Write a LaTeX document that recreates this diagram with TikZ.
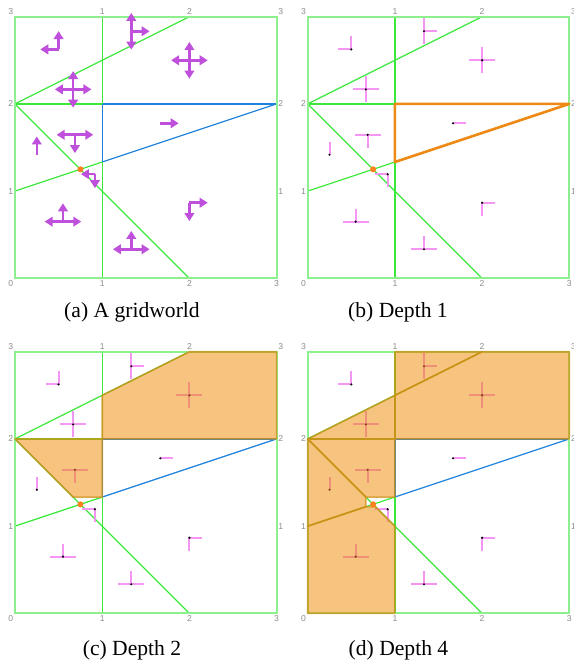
\documentclass[tikz,border=0pt]{standalone}
\usepackage{fontspec}
\setmainfont{Liberation Serif}
\newfontfamily\tickfont{Liberation Sans}
\usetikzlibrary{arrows.meta}

\definecolor{gridgreen}{RGB}{60,232,60}
\definecolor{boxgreen}{RGB}{140,240,140}
\definecolor{cutblue}{RGB}{30,130,220}
\definecolor{actviolet}{RGB}{190,80,220}
\definecolor{armpink}{RGB}{245,150,245}
\definecolor{hitorange}{RGB}{255,128,30}
\definecolor{pickorange}{RGB}{238,138,20}
\definecolor{absfill}{RGB}{237,137,0}
\definecolor{absedge}{RGB}{205,145,25}

\tikzset{
  frame/.style   = {draw=boxgreen, line width=1bp},
  cut/.style     = {draw=gridgreen, line width=0.6bp},
  cutb/.style    = {draw=cutblue, line width=0.6bp},
  tick/.style    = {font=\tickfont\fontsize{4.3bp}{5bp}\selectfont, text=black!45,
                    inner sep=0.7bp},
  act/.style     = {draw=actviolet, line width=1.3bp,
                    -{Triangle[length=4bp,width=4.8bp]}},
  arm/.style     = {draw=armpink, line width=1bp},
  picked/.style  = {draw=pickorange, line width=1.3bp, line join=round},
  absreg/.style  = {fill=absfill, fill opacity=0.5, draw=absedge, draw opacity=0.75,
                    line width=0.8bp, line join=round},
  capt/.style    = {font=\fontsize{10.8bp}{13bp}\selectfont, anchor=base, inner sep=0pt},
  panel/.style   = {x=43.6bp, y=43.6bp},
}

% region centres: x / y / arrow length / actions (angles)
\newcommand{\regionlist}{0.5/2.625/0.21/{180,90}, 1.3333/2.8333/0.21/{90,270,0},
  2/2.5/0.21/{0,90,180,270}, 0.6667/2.1667/0.21/{0,90,180,270},
  1.6667/1.7778/0.21/{0}, 0.6875/1.6458/0.21/{180,0,270}, 0.25/1.4167/0.21/{90},
  0.9167/1.1944/0.16/{180,270}, 2/0.8667/0.21/{0,270}, 0.55/0.65/0.21/{180,0,90},
  1.3333/0.3333/0.21/{180,0,90}}

% the cuts of the gridworld and the numbers round it
\newcommand{\gridpanel}[1]{
  \draw[cut] (0,2) -- (2,3);
  \draw[cut] (0,2) -- (2,0);
  \draw[cut] (0,1) -- (1,1.3333);
  \draw[cutb] (1,1.3333) -- (3,2);
  \draw[cut] (0,2) -- (1,2);
  \draw[cutb] (1,2) -- (3,2);
  \draw[cut] (1,0) -- (1,1.3333);
  \draw[cutb] (1,1.3333) -- (1,2);
  \draw[cut] (1,2) -- (1,3);
  \draw[frame] (0,0) rectangle (3,3);
  \node[tick, anchor=south east] (#1-tl) at (0,3) {3};
  \node[tick, anchor=south] (#1-t1) at (1,3) {1};
  \node[tick, anchor=south] (#1-t2) at (2,3) {2};
  \node[tick, anchor=south west] (#1-tr) at (3,3) {3};
  \node[tick, anchor=east] (#1-l2) at (0,2) {2};
  \node[tick, anchor=east] (#1-l1) at (0,1) {1};
  \node[tick, anchor=west] (#1-r2) at (3,2) {2};
  \node[tick, anchor=west] (#1-r1) at (3,1) {1};
  \node[tick, anchor=north east] (#1-b0) at (0,0) {0};
  \node[tick, anchor=north] (#1-b1) at (1,0) {1};
  \node[tick, anchor=north] (#1-b2) at (2,0) {2};
  \node[tick, anchor=north] (#1-b3) at (3,0) {3};
}

% small crosses of the abstract states
\newcommand{\statecrosses}{
  \foreach \x/\y/\l/\dirs in \regionlist {
    \foreach \a in \dirs
      \draw[arm] (\x,\y) -- ++(\a:0.15);
    \fill (\x,\y) circle[radius=0.6bp];
  }
}

\newcommand{\hitdot}{\fill[hitorange] (0.75,1.25) circle[radius=1.5bp];}

\begin{document}
\begin{tikzpicture}[x=0.5bp, y=-0.5bp]
\useasboundingbox (0,0) rectangle (574,667);

% ---------------- (a) the gridworld -----------------------------------
\begin{scope}[panel, xshift=7.5bp, yshift=-139.15bp]
  \gridpanel{a}
  \foreach \x/\y/\l/\dirs in \regionlist
    \foreach \a in \dirs
      \draw[act] (\x,\y) -- ++(\a:\l);
  \hitdot
\end{scope}

% ---------------- (b) depth 1 -----------------------------------------
\begin{scope}[panel, xshift=153.85bp, yshift=-139.15bp]
  \gridpanel{b}
  \statecrosses
  \draw[picked] (1,2) -- (3,2) -- (1,1.3333) -- cycle;
  \hitdot
\end{scope}

% ---------------- (c) depth 2 -----------------------------------------
\begin{scope}[panel, xshift=7.5bp, yshift=-306.65bp]
  \gridpanel{c}
  \statecrosses
  \path[absreg] (1,2) -- (3,2) -- (3,3) -- (2,3) -- (1,2.5) -- cycle;
  \path[absreg] (0,2) -- (1,2) -- (1,1.3333) -- (0.6667,1.3333) -- cycle;
  \hitdot
\end{scope}

% ---------------- (d) depth 4 -----------------------------------------
\begin{scope}[panel, xshift=153.85bp, yshift=-306.65bp]
  \gridpanel{d}
  \statecrosses
  \path[absreg] (1,2) -- (3,2) -- (3,3) -- (2,3) -- (1,2.5) -- cycle;
  \path[absreg] (1,2.5) -- (2,3) -- (1,3) -- cycle;
  \path[absreg] (0,2) -- (1,2) -- (1,2.5) -- cycle;
  \path[absreg] (0,2) -- (1,2) -- (1,1.3333) -- (0.6667,1.3333) -- cycle;
  \path[absreg] (0,2) -- (0.6667,1.3333) -- (0.6667,1.2222) -- (0,1) -- cycle;
  \path[absreg] (0,1) -- (0.6667,1.2222) -- (0.7778,1.2222) -- (1,1)
    -- (1,0) -- (0,0) -- cycle;
  \hitdot
\end{scope}

% ---------------- captions --------------------------------------------
\node[capt] (capA) at (132,317) {(a) A gridworld};
\node[capt] (capB) at (398,317) {(b) Depth 1};
\node[capt] (capC) at (132,655) {(c) Depth 2};
\node[capt] (capD) at (398.5,655) {(d) Depth 4};

\end{tikzpicture}
\end{document}
